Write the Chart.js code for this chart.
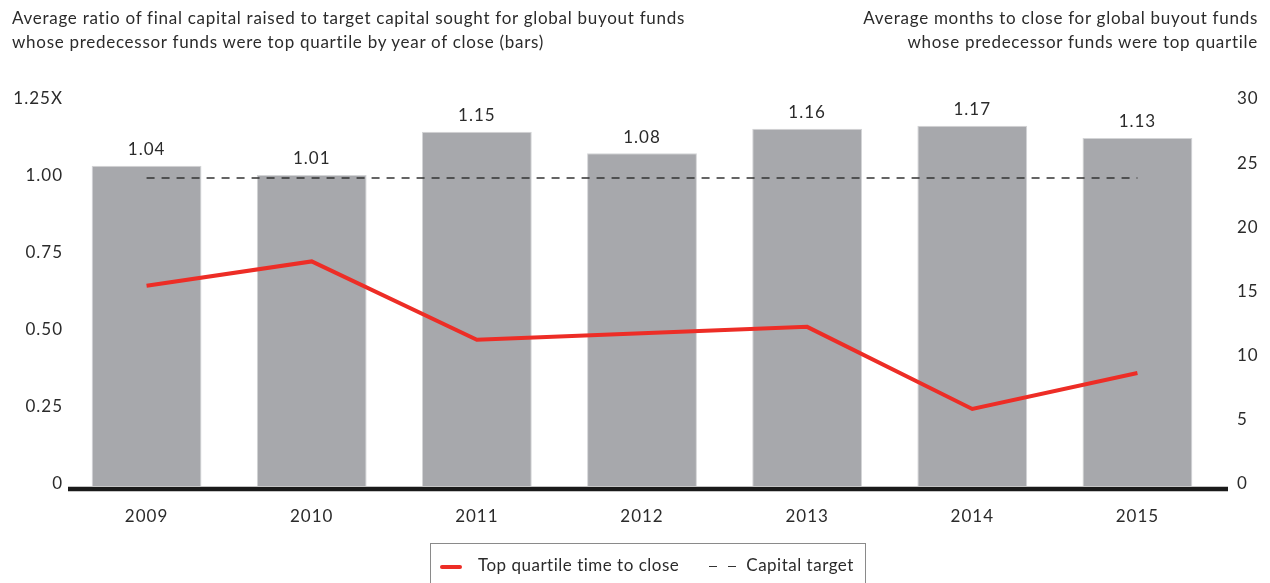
<!DOCTYPE html>
<html>
<head>
<meta charset="utf-8">
<script src="https://cdn.jsdelivr.net/npm/chart.js@4.4.1/dist/chart.umd.min.js"></script>
<style>
  body { margin: 0; background: #fff; font-family: "Lato", sans-serif; color: #2b2b2b; }
  #wrap { position: relative; width: 1270px; height: 583px; overflow: hidden; }
  .title { position: absolute; top: 6px; font-size: 17px; line-height: 24px; white-space: nowrap; letter-spacing: 0.72px; }
  #legend { position: absolute; left: 430px; top: 543px; width: 434px; height: 50px; border: 1px solid #8a8a8a;
    display: flex; align-items: flex-start; font-size: 17px; letter-spacing: 0.5px; }
  .sym { display: inline-block; width: 22px; height: 0; margin-top: 21px; }
  .dash { display: inline-block; width: 8px; height: 0; margin-top: 22px; border-top: 1.5px solid #333; }
</style>
</head>
<body>
<div id="wrap">
  <canvas id="chart" width="1270" height="583"></canvas>
  <div class="title" style="left:12px;">Average ratio of final capital raised to target capital sought for global buyout funds<br>whose predecessor funds were top quartile by year of close (bars)</div>
  <div class="title" style="right:12px;text-align:right;">Average months to close for global buyout funds<br>whose predecessor funds were top quartile</div>
  <div id="legend">
    <span class="sym" style="margin-left:9px;border-top:4px solid #ed2d26;border-radius:2px;"></span>
    <span style="margin-left:16px;margin-top:10px;">Top quartile time to close</span>
    <span class="dash" style="margin-left:30px;"></span>
    <span class="dash" style="margin-left:11px;"></span>
    <span style="margin-left:10px;margin-top:10px;">Capital target</span>
  </div>
</div>
<script>
// categories and values
const years = ['2009', '2010', '2011', '2012', '2013', '2014', '2015'];
const capitalRatio = [1.04, 1.01, 1.15, 1.08, 1.16, 1.17, 1.13];
const monthsToClose = [15.6, 17.5, 11.4, 11.9, 12.4, 6.0, 8.8];
const capitalTarget = [1, 1, 1, 1, 1, 1, 1];

const textColor = '#2b2b2b';
const font17 = { family: 'Lato', size: 17 };

// wider letter spacing on all canvas text
const spacing = {
  id: 'spacing',
  beforeDraw(chart) { chart.ctx.letterSpacing = '1px'; }
};

// value labels above bars
const barLabels = {
  id: 'barLabels',
  afterDatasetsDraw(chart) {
    const ctx = chart.ctx;
    const meta = chart.getDatasetMeta(2);
    ctx.save();
    ctx.font = '17px Lato';
    ctx.fillStyle = textColor;
    ctx.textAlign = 'center';
    ctx.textBaseline = 'middle';
    meta.data.forEach((bar, i) => {
      ctx.fillText(capitalRatio[i].toFixed(2), bar.x, bar.y - 16);
    });
    ctx.restore();
  }
};

// thick baseline under the bars
const baseLine = {
  id: 'baseLine',
  afterDatasetsDraw(chart) {
    const { ctx, chartArea } = chart;
    ctx.save();
    ctx.strokeStyle = '#1a1a1a';
    ctx.lineWidth = 4.5;
    ctx.beginPath();
    ctx.moveTo(chartArea.left + 4, chartArea.bottom + 3);
    ctx.lineTo(chartArea.right + 8, chartArea.bottom + 3);
    ctx.stroke();
    ctx.restore();
  }
};

new Chart(document.getElementById('chart').getContext('2d'), {
  type: 'bar',
  data: {
    labels: years,
    datasets: [
      {
        type: 'line',
        label: 'Top quartile time to close',
        data: monthsToClose,
        yAxisID: 'y1',
        borderColor: '#ed2d26',
        borderWidth: 4,
        pointRadius: 0,
        tension: 0,
        order: 0
      },
      {
        type: 'line',
        label: 'Capital target',
        data: capitalTarget,
        yAxisID: 'y',
        borderColor: '#333',
        borderWidth: 1.3,
        borderDash: [8, 7],
        pointRadius: 0,
        order: 1
      },
      {
        label: 'Capital ratio',
        data: capitalRatio,
        yAxisID: 'y',
        backgroundColor: '#a7a8ac',
        borderColor: '#d3d4d6',
        borderWidth: 1,
        barPercentage: 0.665,
        categoryPercentage: 1,
        order: 2
      }
    ]
  },
  options: {
    responsive: false,
    animation: false,
    layout: { padding: { top: 101, left: 0, right: 0, bottom: 0 } },
    plugins: { legend: { display: false }, tooltip: { enabled: false } },
    scales: {
      x: {
        grid: { display: false },
        border: { display: false },
        ticks: { color: textColor, font: font17, padding: 12 },
        afterFit: s => { s.height = 97; }
      },
      y: {
        position: 'left',
        min: 0,
        max: 1.25,
        grid: { display: false, drawTicks: false },
        border: { display: false },
        ticks: {
          stepSize: 0.25,
          color: textColor,
          font: font17,
          padding: 1,
          labelOffset: -2,
          callback: v => v === 0 ? '0' : (v === 1.25 ? '1.25X' : v.toFixed(2))
        },
        afterFit: s => { s.width = 64; }
      },
      y1: {
        position: 'right',
        min: 0,
        max: 30,
        grid: { display: false, drawTicks: false },
        border: { display: false },
        ticks: { stepSize: 5, color: textColor, font: font17, padding: 17, labelOffset: -2 },
        afterFit: s => { s.width = 50; }
      }
    }
  },
  plugins: [spacing, barLabels, baseLine]
});
</script>
</body>
</html>
